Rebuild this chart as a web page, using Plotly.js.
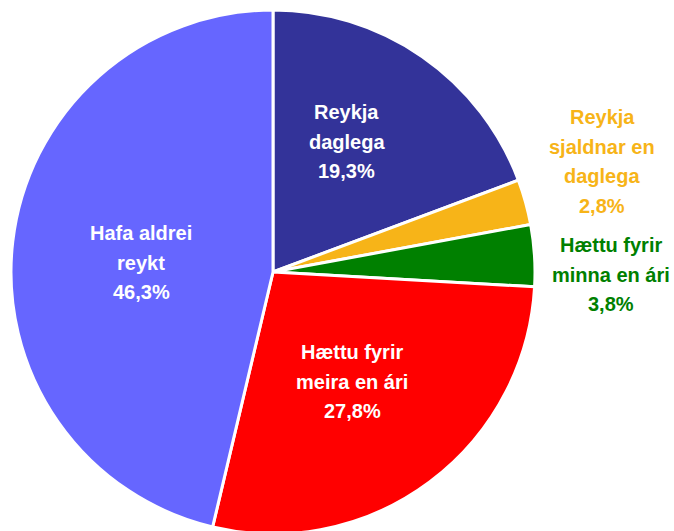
<!DOCTYPE html>
<html>
<head>
<meta charset="utf-8">
<script src="https://cdn.plot.ly/plotly-3.0.1.min.js"></script>
<style>
  html, body { margin: 0; padding: 0; overflow: hidden; background: #fff; }
  #plot { width: 674px; height: 537px; }
</style>
</head>
<body>
<div id="plot"></div>
<script>
// reykingar - hlutfall
const categories = ['Reykja daglega', 'Reykja sjaldnar en daglega', 'Hættu fyrir minna en ári',
                    'Hættu fyrir meira en ári', 'Hafa aldrei reykt'];
const values = [19.3, 2.8, 3.8, 27.8, 46.3];
const labelLines = [
  ['Reykja', 'daglega'],
  ['Reykja', 'sjaldnar en', 'daglega'],
  ['Hættu fyrir', 'minna en ári'],
  ['Hættu fyrir', 'meira en ári'],
  ['Hafa aldrei', 'reykt']
];
const sliceColors = ['#333399', '#F7B418', '#008000', '#FF0000', '#6666FF'];
const textColors = ['#ffffff', '#F7B418', '#008000', '#ffffff', '#ffffff'];

const W = 674, H = 537;
// label block position (px, first line) for each slice
const labelPos = [[347, 112], [602, 117], [611, 245], [352, 352], [141, 233]];
const lineGap = 29.7;
const font = 'Liberation Sans Narrow, Arial Narrow, Liberation Sans, sans-serif';

const fmt = v => v.toFixed(1).replace('.', ',') + '%';

const annotations = [];
labelLines.forEach((lines, i) => {
  const all = lines.concat([fmt(values[i])]);
  all.forEach((t, j) => {
    annotations.push({
      xref: 'paper', yref: 'paper',
      x: labelPos[i][0] / W,
      y: 1 - (labelPos[i][1] + j * lineGap) / H,
      xanchor: 'center', yanchor: 'middle',
      text: '<b>' + t + '</b>', showarrow: false,
      font: { family: font, size: 20, color: textColors[i] }
    });
  });
});

Plotly.newPlot('plot', [{
  type: 'pie',
  labels: categories,
  values: values,
  sort: false,
  direction: 'clockwise',
  rotation: 0,
  textinfo: 'none',
  hoverinfo: 'label+percent',
  marker: { colors: sliceColors, line: { color: '#ffffff', width: 3 } },
  domain: { x: [11 / W, 535 / W], y: [3 / H, 527 / H] }
}], {
  width: W, height: H,
  margin: { t: 0, l: 0, r: 0, b: 0 },
  showlegend: false,
  annotations: annotations,
  paper_bgcolor: 'white'
}, { displayModeBar: false, staticPlot: true });
</script>
</body>
</html>
